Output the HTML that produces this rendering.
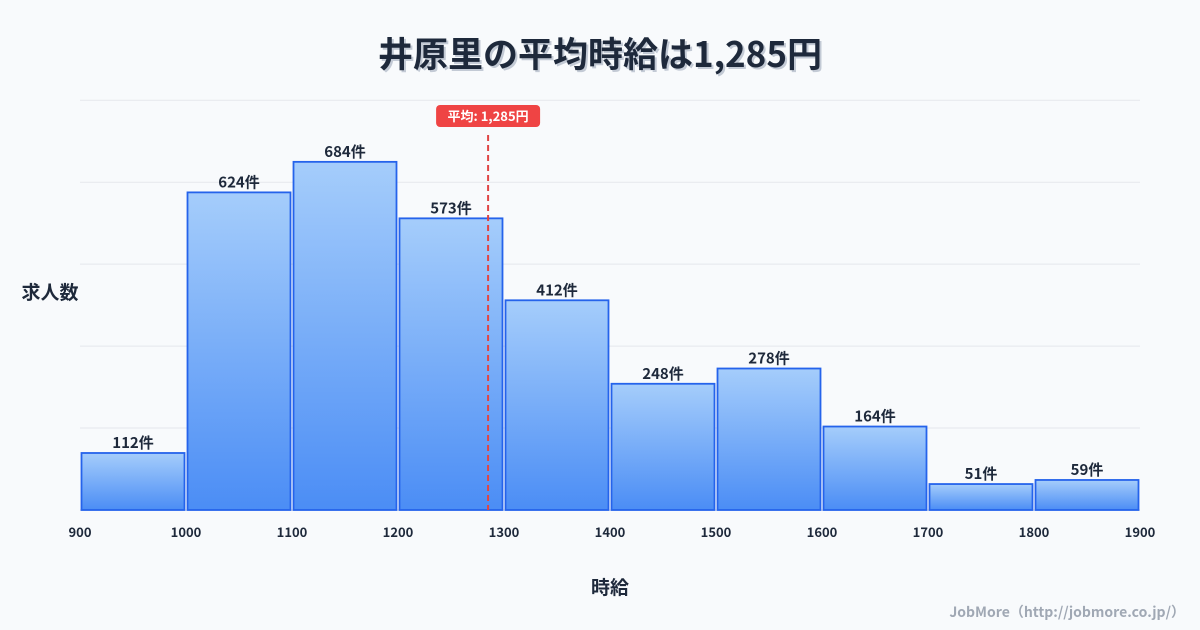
<!DOCTYPE html>
<html><head><meta charset="utf-8"><style>
body{margin:0;background:#f8fafc;font-family:"Noto Sans CJK JP","Liberation Sans",sans-serif;}
svg{display:block}
text{font-family:"Noto Sans CJK JP","Liberation Sans",sans-serif;}
</style></head><body>
<svg id="c" width="1200" height="630" xmlns="http://www.w3.org/2000/svg">
<defs><linearGradient id="g" x1="0" y1="0" x2="0" y2="1"><stop offset="0" stop-color="#a5cdfb"/><stop offset="1" stop-color="#4b8df5"/></linearGradient></defs>
<rect width="1200" height="630" fill="#f8fafc"/>
<text x="600" y="67" text-anchor="middle" font-size="35" font-weight="bold" fill="#c3cad5" transform="translate(2,2)">井原里の平均時給は1,285円</text>
<text x="600" y="67" text-anchor="middle" font-size="35" font-weight="bold" fill="#1e293b">井原里の平均時給は1,285円</text>
<g id="grid"></g><g id="bars"></g><g id="xt"></g>
<text x="50" y="299" text-anchor="middle" font-size="19" font-weight="bold" fill="#1e293b">求人数</text>
<text x="610" y="594" text-anchor="middle" font-size="19" font-weight="bold" fill="#1e293b">時給</text>
<text x="1185" y="617" text-anchor="end" font-size="14" font-weight="bold" fill="#a0a8b4">JobMore（http://jobmore.co.jp/）</text>
</svg>
<script>
const binStarts=[900,1000,1100,1200,1300,1400,1500,1600,1700,1800];
const counts=[112,624,684,573,412,248,278,164,51,59];
const xTicks=[900,1000,1100,1200,1300,1400,1500,1600,1700,1800,1900];
const yGrid=[0,161,322,483,644,805];
const mean=1285;
const ns="http://www.w3.org/2000/svg";
const X=v=>80+(v-900)*1.06, Y=v=>510-v*0.509;
function mk(t,a,p,txt){const e=document.createElementNS(ns,t);for(const k in a)e.setAttribute(k,a[k]);if(txt!=null)e.textContent=txt;p.appendChild(e);return e;}
const grid=document.getElementById('grid'),bars=document.getElementById('bars'),xt=document.getElementById('xt');
yGrid.forEach(v=>{const l=mk('line',{x1:80,x2:1140,y1:Y(v),y2:Y(v),stroke:v?'#e5e7eb':'#d1d5db','stroke-width':1},grid);

});
binStarts.forEach((s,i)=>{const x0=X(s)+1.5,x1=X(s+100)-1.5,y=Y(counts[i]);
const r=mk('rect',{x:x0,y:y,width:x1-x0,height:510-y,fill:'url(#g)',stroke:'#2563eb','stroke-width':1.8},bars);


const t=mk('text',{x:(x0+x1)/2,y:y-5,'text-anchor':'middle','font-size':15,'font-weight':'bold',fill:'#1e293b'},bars,counts[i]+'件');

});
xTicks.forEach(v=>{const t=mk('text',{x:X(v),y:537,'text-anchor':'middle','font-size':13,'font-weight':'bold',fill:'#1e293b'},xt,v);

});
const mx=X(mean);
const ml=mk('line',{x1:mx,x2:mx,y1:135,y2:510,stroke:'#e04444','stroke-width':2,'stroke-dasharray':'6,4'},bars);


const mb=mk('rect',{x:mx-52,y:105,width:104,height:22,rx:4,fill:'#ef4444'},bars);


const mt=mk('text',{x:mx,y:121,'text-anchor':'middle','font-size':13,'font-weight':'bold',fill:'#fff'},bars,'平均: 1,285円');


</script>
</body></html>
